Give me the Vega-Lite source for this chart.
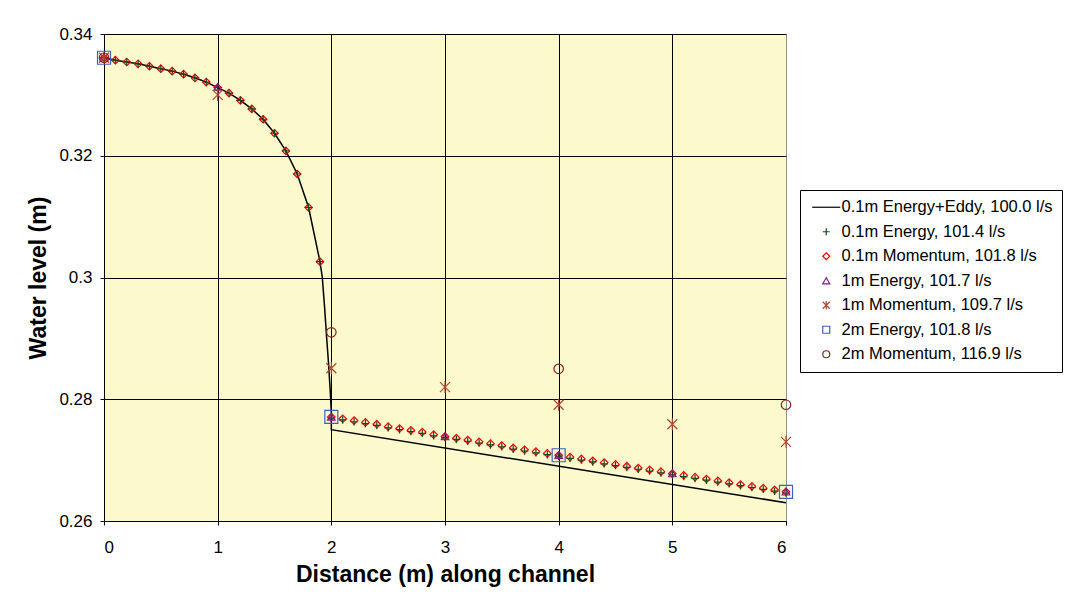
{
  "$schema": "https://vega.github.io/schema/vega-lite/v6.json",
  "autosize": {"type": "none"},
  "width": 682,
  "height": 487,
  "padding": {"left": 104, "top": 34, "right": 287, "bottom": 81},
  "background": "white",
  "config": {
    "font": "Liberation Sans",
    "view": {"fill": "#fcf9cc", "stroke": null},
    "axis": {
      "domainColor": "black",
      "tickColor": "black",
      "labelColor": "black",
      "titleColor": "black",
      "labelFont": "Liberation Sans",
      "titleFont": "Liberation Sans",
      "labelFontSize": 17,
      "titleFontSize": 23,
      "titleFontWeight": "bold",
      "tickSize": 4,
      "grid": true,
      "gridOpacity": 1,
      "gridWidth": 1
    },
    "legend": {
      "orient": "none",
      "legendX": 696,
      "legendY": 156,
      "title": null,
      "strokeColor": "black",
      "fillColor": "white",
      "padding": 9,
      "labelFont": "Liberation Sans",
      "labelFontSize": 16.5,
      "labelColor": "black",
      "labelLimit": 400,
      "symbolSize": 49,
      "symbolOffset": 9,
      "labelOffset": 7,
      "rowPadding": 7.5,
      "symbolStrokeWidth": 1.2,
      "symbolFillColor": "transparent"
    }
  },
  "datasets": {
    "rows": [
      {"series": "0.1m Energy+Eddy, 100.0 l/s", "x": 0.0, "y": 0.3361},
      {"series": "0.1m Energy+Eddy, 100.0 l/s", "x": 0.1, "y": 0.3357},
      {"series": "0.1m Energy+Eddy, 100.0 l/s", "x": 0.2, "y": 0.3354},
      {"series": "0.1m Energy+Eddy, 100.0 l/s", "x": 0.3, "y": 0.3351},
      {"series": "0.1m Energy+Eddy, 100.0 l/s", "x": 0.4, "y": 0.3347},
      {"series": "0.1m Energy+Eddy, 100.0 l/s", "x": 0.5, "y": 0.3343},
      {"series": "0.1m Energy+Eddy, 100.0 l/s", "x": 0.6, "y": 0.3339},
      {"series": "0.1m Energy+Eddy, 100.0 l/s", "x": 0.7, "y": 0.3334},
      {"series": "0.1m Energy+Eddy, 100.0 l/s", "x": 0.8, "y": 0.3328},
      {"series": "0.1m Energy+Eddy, 100.0 l/s", "x": 0.9, "y": 0.3321},
      {"series": "0.1m Energy+Eddy, 100.0 l/s", "x": 1.0, "y": 0.3312},
      {"series": "0.1m Energy+Eddy, 100.0 l/s", "x": 1.1, "y": 0.3303},
      {"series": "0.1m Energy+Eddy, 100.0 l/s", "x": 1.2, "y": 0.3291},
      {"series": "0.1m Energy+Eddy, 100.0 l/s", "x": 1.3, "y": 0.3277},
      {"series": "0.1m Energy+Eddy, 100.0 l/s", "x": 1.4, "y": 0.3260},
      {"series": "0.1m Energy+Eddy, 100.0 l/s", "x": 1.5, "y": 0.3237},
      {"series": "0.1m Energy+Eddy, 100.0 l/s", "x": 1.6, "y": 0.3208},
      {"series": "0.1m Energy+Eddy, 100.0 l/s", "x": 1.7, "y": 0.3170},
      {"series": "0.1m Energy+Eddy, 100.0 l/s", "x": 1.8, "y": 0.3115},
      {"series": "0.1m Energy+Eddy, 100.0 l/s", "x": 1.9, "y": 0.3026},
      {"series": "0.1m Energy+Eddy, 100.0 l/s", "x": 1.92, "y": 0.3001},
      {"series": "0.1m Energy+Eddy, 100.0 l/s", "x": 1.94, "y": 0.2953},
      {"series": "0.1m Energy+Eddy, 100.0 l/s", "x": 1.96, "y": 0.2898},
      {"series": "0.1m Energy+Eddy, 100.0 l/s", "x": 1.975, "y": 0.2860},
      {"series": "0.1m Energy+Eddy, 100.0 l/s", "x": 1.99, "y": 0.2815},
      {"series": "0.1m Energy+Eddy, 100.0 l/s", "x": 2.0, "y": 0.2778},
      {"series": "0.1m Energy+Eddy, 100.0 l/s", "x": 2.0, "y": 0.2750},
      {"series": "0.1m Energy+Eddy, 100.0 l/s", "x": 6.0, "y": 0.2630},

      {"series": "2m Momentum, 116.9 l/s", "x": 0, "y": 0.3361},
      {"series": "2m Momentum, 116.9 l/s", "x": 2, "y": 0.2910},
      {"series": "2m Momentum, 116.9 l/s", "x": 4, "y": 0.2850},
      {"series": "2m Momentum, 116.9 l/s", "x": 6, "y": 0.2791},

      {"series": "1m Momentum, 109.7 l/s", "x": 0, "y": 0.3361},
      {"series": "1m Momentum, 109.7 l/s", "x": 1, "y": 0.3300},
      {"series": "1m Momentum, 109.7 l/s", "x": 2, "y": 0.2851},
      {"series": "1m Momentum, 109.7 l/s", "x": 3, "y": 0.2820},
      {"series": "1m Momentum, 109.7 l/s", "x": 4, "y": 0.2791},
      {"series": "1m Momentum, 109.7 l/s", "x": 5, "y": 0.2759},
      {"series": "1m Momentum, 109.7 l/s", "x": 6, "y": 0.2730},

      {"series": "0.1m Momentum, 101.8 l/s", "x": 0.0, "y": 0.3361},
      {"series": "0.1m Momentum, 101.8 l/s", "x": 0.1, "y": 0.3357},
      {"series": "0.1m Momentum, 101.8 l/s", "x": 0.2, "y": 0.3354},
      {"series": "0.1m Momentum, 101.8 l/s", "x": 0.3, "y": 0.3351},
      {"series": "0.1m Momentum, 101.8 l/s", "x": 0.4, "y": 0.3347},
      {"series": "0.1m Momentum, 101.8 l/s", "x": 0.5, "y": 0.3343},
      {"series": "0.1m Momentum, 101.8 l/s", "x": 0.6, "y": 0.3339},
      {"series": "0.1m Momentum, 101.8 l/s", "x": 0.7, "y": 0.3334},
      {"series": "0.1m Momentum, 101.8 l/s", "x": 0.8, "y": 0.3328},
      {"series": "0.1m Momentum, 101.8 l/s", "x": 0.9, "y": 0.3321},
      {"series": "0.1m Momentum, 101.8 l/s", "x": 1.0, "y": 0.3312},
      {"series": "0.1m Momentum, 101.8 l/s", "x": 1.1, "y": 0.3303},
      {"series": "0.1m Momentum, 101.8 l/s", "x": 1.2, "y": 0.3291},
      {"series": "0.1m Momentum, 101.8 l/s", "x": 1.3, "y": 0.3277},
      {"series": "0.1m Momentum, 101.8 l/s", "x": 1.4, "y": 0.3260},
      {"series": "0.1m Momentum, 101.8 l/s", "x": 1.5, "y": 0.3237},
      {"series": "0.1m Momentum, 101.8 l/s", "x": 1.6, "y": 0.3208},
      {"series": "0.1m Momentum, 101.8 l/s", "x": 1.7, "y": 0.3170},
      {"series": "0.1m Momentum, 101.8 l/s", "x": 1.8, "y": 0.3115},
      {"series": "0.1m Momentum, 101.8 l/s", "x": 1.9, "y": 0.3026},
      {"series": "0.1m Momentum, 101.8 l/s", "x": 2.0, "y": 0.2771},
      {"series": "0.1m Momentum, 101.8 l/s", "x": 2.1, "y": 0.2768},
      {"series": "0.1m Momentum, 101.8 l/s", "x": 2.2, "y": 0.2765},
      {"series": "0.1m Momentum, 101.8 l/s", "x": 2.3, "y": 0.2762},
      {"series": "0.1m Momentum, 101.8 l/s", "x": 2.4, "y": 0.2759},
      {"series": "0.1m Momentum, 101.8 l/s", "x": 2.5, "y": 0.2755},
      {"series": "0.1m Momentum, 101.8 l/s", "x": 2.6, "y": 0.2752},
      {"series": "0.1m Momentum, 101.8 l/s", "x": 2.7, "y": 0.2749},
      {"series": "0.1m Momentum, 101.8 l/s", "x": 2.8, "y": 0.2746},
      {"series": "0.1m Momentum, 101.8 l/s", "x": 2.9, "y": 0.2742},
      {"series": "0.1m Momentum, 101.8 l/s", "x": 3.0, "y": 0.2739},
      {"series": "0.1m Momentum, 101.8 l/s", "x": 3.1, "y": 0.2736},
      {"series": "0.1m Momentum, 101.8 l/s", "x": 3.2, "y": 0.2733},
      {"series": "0.1m Momentum, 101.8 l/s", "x": 3.3, "y": 0.2730},
      {"series": "0.1m Momentum, 101.8 l/s", "x": 3.4, "y": 0.2727},
      {"series": "0.1m Momentum, 101.8 l/s", "x": 3.5, "y": 0.2724},
      {"series": "0.1m Momentum, 101.8 l/s", "x": 3.6, "y": 0.2720},
      {"series": "0.1m Momentum, 101.8 l/s", "x": 3.7, "y": 0.2717},
      {"series": "0.1m Momentum, 101.8 l/s", "x": 3.8, "y": 0.2714},
      {"series": "0.1m Momentum, 101.8 l/s", "x": 3.9, "y": 0.2711},
      {"series": "0.1m Momentum, 101.8 l/s", "x": 4.0, "y": 0.2708},
      {"series": "0.1m Momentum, 101.8 l/s", "x": 4.1, "y": 0.2705},
      {"series": "0.1m Momentum, 101.8 l/s", "x": 4.2, "y": 0.2702},
      {"series": "0.1m Momentum, 101.8 l/s", "x": 4.3, "y": 0.2699},
      {"series": "0.1m Momentum, 101.8 l/s", "x": 4.4, "y": 0.2696},
      {"series": "0.1m Momentum, 101.8 l/s", "x": 4.5, "y": 0.2693},
      {"series": "0.1m Momentum, 101.8 l/s", "x": 4.6, "y": 0.2690},
      {"series": "0.1m Momentum, 101.8 l/s", "x": 4.7, "y": 0.2687},
      {"series": "0.1m Momentum, 101.8 l/s", "x": 4.8, "y": 0.2684},
      {"series": "0.1m Momentum, 101.8 l/s", "x": 4.9, "y": 0.2681},
      {"series": "0.1m Momentum, 101.8 l/s", "x": 5.0, "y": 0.2678},
      {"series": "0.1m Momentum, 101.8 l/s", "x": 5.1, "y": 0.2675},
      {"series": "0.1m Momentum, 101.8 l/s", "x": 5.2, "y": 0.2672},
      {"series": "0.1m Momentum, 101.8 l/s", "x": 5.3, "y": 0.2669},
      {"series": "0.1m Momentum, 101.8 l/s", "x": 5.4, "y": 0.2666},
      {"series": "0.1m Momentum, 101.8 l/s", "x": 5.5, "y": 0.2663},
      {"series": "0.1m Momentum, 101.8 l/s", "x": 5.6, "y": 0.2660},
      {"series": "0.1m Momentum, 101.8 l/s", "x": 5.7, "y": 0.2657},
      {"series": "0.1m Momentum, 101.8 l/s", "x": 5.8, "y": 0.2654},
      {"series": "0.1m Momentum, 101.8 l/s", "x": 5.9, "y": 0.2651},
      {"series": "0.1m Momentum, 101.8 l/s", "x": 6.0, "y": 0.2648},

      {"series": "0.1m Energy, 101.4 l/s", "x": 0.0, "y": 0.3361},
      {"series": "0.1m Energy, 101.4 l/s", "x": 0.1, "y": 0.3357},
      {"series": "0.1m Energy, 101.4 l/s", "x": 0.2, "y": 0.3354},
      {"series": "0.1m Energy, 101.4 l/s", "x": 0.3, "y": 0.3351},
      {"series": "0.1m Energy, 101.4 l/s", "x": 0.4, "y": 0.3347},
      {"series": "0.1m Energy, 101.4 l/s", "x": 0.5, "y": 0.3343},
      {"series": "0.1m Energy, 101.4 l/s", "x": 0.6, "y": 0.3339},
      {"series": "0.1m Energy, 101.4 l/s", "x": 0.7, "y": 0.3334},
      {"series": "0.1m Energy, 101.4 l/s", "x": 0.8, "y": 0.3328},
      {"series": "0.1m Energy, 101.4 l/s", "x": 0.9, "y": 0.3321},
      {"series": "0.1m Energy, 101.4 l/s", "x": 1.0, "y": 0.3312},
      {"series": "0.1m Energy, 101.4 l/s", "x": 1.1, "y": 0.3303},
      {"series": "0.1m Energy, 101.4 l/s", "x": 1.2, "y": 0.3291},
      {"series": "0.1m Energy, 101.4 l/s", "x": 1.3, "y": 0.3277},
      {"series": "0.1m Energy, 101.4 l/s", "x": 1.4, "y": 0.3260},
      {"series": "0.1m Energy, 101.4 l/s", "x": 1.5, "y": 0.3237},
      {"series": "0.1m Energy, 101.4 l/s", "x": 1.6, "y": 0.3208},
      {"series": "0.1m Energy, 101.4 l/s", "x": 1.7, "y": 0.3170},
      {"series": "0.1m Energy, 101.4 l/s", "x": 1.8, "y": 0.3115},
      {"series": "0.1m Energy, 101.4 l/s", "x": 1.9, "y": 0.3026},
      {"series": "0.1m Energy, 101.4 l/s", "x": 2.0, "y": 0.2769},
      {"series": "0.1m Energy, 101.4 l/s", "x": 2.1, "y": 0.2766},
      {"series": "0.1m Energy, 101.4 l/s", "x": 2.2, "y": 0.2763},
      {"series": "0.1m Energy, 101.4 l/s", "x": 2.3, "y": 0.2760},
      {"series": "0.1m Energy, 101.4 l/s", "x": 2.4, "y": 0.2757},
      {"series": "0.1m Energy, 101.4 l/s", "x": 2.5, "y": 0.2753},
      {"series": "0.1m Energy, 101.4 l/s", "x": 2.6, "y": 0.2750},
      {"series": "0.1m Energy, 101.4 l/s", "x": 2.7, "y": 0.2747},
      {"series": "0.1m Energy, 101.4 l/s", "x": 2.8, "y": 0.2744},
      {"series": "0.1m Energy, 101.4 l/s", "x": 2.9, "y": 0.2740},
      {"series": "0.1m Energy, 101.4 l/s", "x": 3.0, "y": 0.2737},
      {"series": "0.1m Energy, 101.4 l/s", "x": 3.1, "y": 0.2734},
      {"series": "0.1m Energy, 101.4 l/s", "x": 3.2, "y": 0.2731},
      {"series": "0.1m Energy, 101.4 l/s", "x": 3.3, "y": 0.2728},
      {"series": "0.1m Energy, 101.4 l/s", "x": 3.4, "y": 0.2725},
      {"series": "0.1m Energy, 101.4 l/s", "x": 3.5, "y": 0.2722},
      {"series": "0.1m Energy, 101.4 l/s", "x": 3.6, "y": 0.2718},
      {"series": "0.1m Energy, 101.4 l/s", "x": 3.7, "y": 0.2715},
      {"series": "0.1m Energy, 101.4 l/s", "x": 3.8, "y": 0.2712},
      {"series": "0.1m Energy, 101.4 l/s", "x": 3.9, "y": 0.2709},
      {"series": "0.1m Energy, 101.4 l/s", "x": 4.0, "y": 0.2706},
      {"series": "0.1m Energy, 101.4 l/s", "x": 4.1, "y": 0.2703},
      {"series": "0.1m Energy, 101.4 l/s", "x": 4.2, "y": 0.2700},
      {"series": "0.1m Energy, 101.4 l/s", "x": 4.3, "y": 0.2697},
      {"series": "0.1m Energy, 101.4 l/s", "x": 4.4, "y": 0.2694},
      {"series": "0.1m Energy, 101.4 l/s", "x": 4.5, "y": 0.2691},
      {"series": "0.1m Energy, 101.4 l/s", "x": 4.6, "y": 0.2688},
      {"series": "0.1m Energy, 101.4 l/s", "x": 4.7, "y": 0.2685},
      {"series": "0.1m Energy, 101.4 l/s", "x": 4.8, "y": 0.2682},
      {"series": "0.1m Energy, 101.4 l/s", "x": 4.9, "y": 0.2679},
      {"series": "0.1m Energy, 101.4 l/s", "x": 5.0, "y": 0.2676},
      {"series": "0.1m Energy, 101.4 l/s", "x": 5.1, "y": 0.2673},
      {"series": "0.1m Energy, 101.4 l/s", "x": 5.2, "y": 0.2670},
      {"series": "0.1m Energy, 101.4 l/s", "x": 5.3, "y": 0.2667},
      {"series": "0.1m Energy, 101.4 l/s", "x": 5.4, "y": 0.2664},
      {"series": "0.1m Energy, 101.4 l/s", "x": 5.5, "y": 0.2661},
      {"series": "0.1m Energy, 101.4 l/s", "x": 5.6, "y": 0.2658},
      {"series": "0.1m Energy, 101.4 l/s", "x": 5.7, "y": 0.2655},
      {"series": "0.1m Energy, 101.4 l/s", "x": 5.8, "y": 0.2652},
      {"series": "0.1m Energy, 101.4 l/s", "x": 5.9, "y": 0.2649},
      {"series": "0.1m Energy, 101.4 l/s", "x": 6.0, "y": 0.2646},

      {"series": "1m Energy, 101.7 l/s", "x": 0, "y": 0.3361},
      {"series": "1m Energy, 101.7 l/s", "x": 1, "y": 0.3313},
      {"series": "1m Energy, 101.7 l/s", "x": 2, "y": 0.2771},
      {"series": "1m Energy, 101.7 l/s", "x": 3, "y": 0.2739},
      {"series": "1m Energy, 101.7 l/s", "x": 4, "y": 0.2708},
      {"series": "1m Energy, 101.7 l/s", "x": 5, "y": 0.2678},
      {"series": "1m Energy, 101.7 l/s", "x": 6, "y": 0.2648},

      {"series": "2m Energy, 101.8 l/s", "x": 0, "y": 0.3361},
      {"series": "2m Energy, 101.8 l/s", "x": 2, "y": 0.2771},
      {"series": "2m Energy, 101.8 l/s", "x": 4, "y": 0.2708},
      {"series": "2m Energy, 101.8 l/s", "x": 6, "y": 0.2648}
    ]
  },
  "data": {"name": "rows"},
  "encoding": {
    "x": {
      "field": "x",
      "type": "quantitative",
      "title": "Distance (m) along channel",
      "scale": {"domain": [0, 6], "nice": false, "zero": false},
      "axis": {
        "values": [0, 1, 2, 3, 4, 5, 6],
        "format": "d",
        "labelPadding": 14,
        "titlePadding": 8,
        "gridColor": {"condition": {"test": "datum.value === 6", "value": "#909090"}, "value": "black"}
      }
    },
    "y": {
      "field": "y",
      "type": "quantitative",
      "title": "Water level (m)",
      "scale": {"domain": [0.26, 0.34], "nice": false, "zero": false},
      "axis": {
        "values": [0.26, 0.28, 0.3, 0.32, 0.34],
        "format": "~g",
        "labelPadding": 8,
        "titlePadding": 8,
        "gridColor": "black"
      }
    },
    "stroke": {
      "field": "series",
      "type": "nominal",
      "scale": {
        "domain": ["0.1m Energy+Eddy, 100.0 l/s", "0.1m Energy, 101.4 l/s", "0.1m Momentum, 101.8 l/s", "1m Energy, 101.7 l/s", "1m Momentum, 109.7 l/s", "2m Energy, 101.8 l/s", "2m Momentum, 116.9 l/s"],
        "range": ["#000000", "#1e4620", "#ff0000", "#7a1f8a", "#b5452f", "#3f5fbf", "#8b2020"]
      }
    }
  },
  "layer": [
    {
      "transform": [{"filter": "datum.series === '0.1m Energy+Eddy, 100.0 l/s'"}],
      "mark": {"type": "line", "strokeWidth": 1.5, "clip": false},
      "encoding": {
        "order": {"value": null}
      }
    },
    {
      "transform": [{"filter": "datum.series !== '0.1m Energy+Eddy, 100.0 l/s' && datum.series !== '2m Energy, 101.8 l/s' && datum.series !== '1m Momentum, 109.7 l/s' && datum.series !== '2m Momentum, 116.9 l/s'"}],
      "mark": {"type": "point", "filled": false, "strokeWidth": 1.2, "opacity": 1, "size": 56, "clip": false},
      "encoding": {
        "shape": {
          "field": "series",
          "type": "nominal",
          "scale": {
            "domain": ["0.1m Energy+Eddy, 100.0 l/s", "0.1m Energy, 101.4 l/s", "0.1m Momentum, 101.8 l/s", "1m Energy, 101.7 l/s", "1m Momentum, 109.7 l/s", "2m Energy, 101.8 l/s", "2m Momentum, 116.9 l/s"],
            "range": ["M-4,0L4,0", "M-1,0L1,0M0,-1L0,1", "diamond", "triangle-up", "M-1,-1L1,1M-1,1L1,-1M0,-1.2L0,1.2", "square", "circle"]
          }
        }
      }
    },
    {
      "transform": [{"filter": "datum.series === '1m Momentum, 109.7 l/s'"}],
      "mark": {"type": "point", "filled": false, "strokeWidth": 1.2, "opacity": 1, "size": 100, "clip": false},
      "encoding": {"shape": {"field": "series", "type": "nominal"}}
    },
    {
      "transform": [{"filter": "datum.series === '2m Momentum, 116.9 l/s'"}],
      "mark": {"type": "point", "filled": false, "strokeWidth": 1.2, "opacity": 1, "size": 90, "clip": false},
      "encoding": {"shape": {"field": "series", "type": "nominal"}}
    },
    {
      "transform": [{"filter": "datum.series === '2m Energy, 101.8 l/s'"}],
      "mark": {"type": "point", "filled": false, "strokeWidth": 1.2, "opacity": 1, "size": 169, "clip": false},
      "encoding": {"shape": {"field": "series", "type": "nominal"}}
    }
  ]
}
